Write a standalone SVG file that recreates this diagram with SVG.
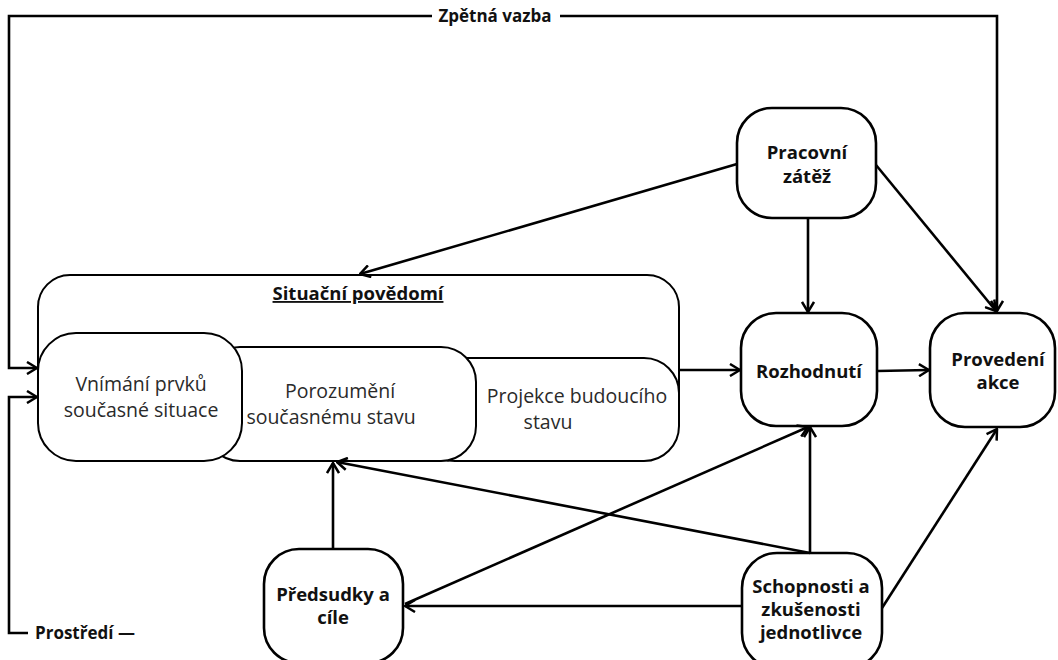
<svg xmlns="http://www.w3.org/2000/svg" width="1058" height="660" viewBox="0 0 1058 660">
<defs>
<style>
.box{fill:#fff;stroke:#000;stroke-width:2.6}
.inner{fill:#fff;stroke:#000;stroke-width:2}
.b{font-family:"Open Sans","Noto Sans","Liberation Sans",sans-serif;font-weight:700;font-size:18.5px;fill:#111;text-anchor:middle}
.n{font-family:"Open Sans","Noto Sans","Liberation Sans",sans-serif;font-weight:400;font-size:19.5px;fill:#2a2a2a;text-anchor:middle}
.lbl{font-family:"Open Sans","Noto Sans","Liberation Sans",sans-serif;font-weight:700;font-size:17px;fill:#111}
.c{fill:none;stroke:#000;stroke-width:2.6;marker-end:url(#ah)}
</style>
<marker id="ah" viewBox="0 0 12 14" refX="11" refY="7" markerWidth="12" markerHeight="14" markerUnits="userSpaceOnUse" orient="auto">
<path d="M1,1 L11,7 L1,13" fill="none" stroke="#000" stroke-width="2.5"/>
</marker>
</defs>
<rect width="1058" height="660" fill="#fff"/>

<g id="situacni-povedomi">
<rect class="inner" x="38" y="275" width="641" height="150" rx="32"/>
<text class="b" x="358" y="300" font-size="18" text-decoration="underline">Situační povědomí</text>
</g>
<g id="projekce">
<rect class="inner" x="420" y="358" width="259" height="103" rx="35"/>
<text class="n" x="577" y="403">Projekce budoucího</text>
<text class="n" x="548" y="429">stavu</text>
</g>
<g id="porozumeni">
<rect class="inner" x="205" y="347" width="271" height="114" rx="35"/>
<text class="n" x="340" y="398">Porozumění</text>
<text class="n" x="331" y="424">současnému stavu</text>
</g>
<g id="vnimani">
<rect class="inner" x="38" y="333" width="204" height="128" rx="38"/>
<text class="n" x="141" y="391">Vnímání prvků</text>
<text class="n" x="141" y="417">současné situace</text>
</g>

<g id="pracovni-zatez">
<rect class="box" x="737" y="108" width="139" height="110" rx="35"/>
<text class="b" x="807" y="159">Pracovní</text>
<text class="b" x="807" y="183">zátěž</text>
</g>
<g id="rozhodnuti">
<rect class="box" x="741" y="313" width="136" height="113" rx="35"/>
<text class="b" x="809" y="378">Rozhodnutí</text>
</g>
<g id="provedeni-akce">
<rect class="box" x="930" y="313" width="125" height="114" rx="35"/>
<text class="b" x="998" y="366">Provedení</text>
<text class="b" x="998" y="389">akce</text>
</g>
<g id="predsudky">
<rect class="box" x="264" y="549" width="139" height="114" rx="35"/>
<text class="b" x="333" y="601">Předsudky a</text>
<text class="b" x="333" y="624">cíle</text>
</g>
<g id="schopnosti">
<rect class="box" x="742" y="553" width="140" height="115" rx="35"/>
<text class="b" x="811" y="593">Schopnosti a</text>
<text class="b" x="811" y="616">zkušenosti</text>
<text class="b" x="811" y="639">jednotlivce</text>
</g>

<g id="connectors">
<path class="c" d="M432,16 H9 V368 H37"/>
<path class="c" d="M560,16 H997 V311"/>
<text class="lbl" x="495" y="22" text-anchor="middle">Zpětná vazba</text>
<path class="c" d="M28,633 H9 V397 H37"/>
<text class="lbl" x="35" y="639">Prostředí —</text>
<path class="c" d="M737,164 L360,274"/>
<path class="c" d="M808,218 V312"/>
<path class="c" d="M876,165 L996,311"/>
<path class="c" d="M679,370 H740"/>
<path class="c" d="M877,371 L929,370"/>
<path class="c" d="M810,553 V427"/>
<path class="c" d="M810,553 L337,462"/>
<path class="c" d="M333,549 V463"/>
<path class="c" d="M742,606 H405"/>
<path class="c" d="M405,604 L808,427"/>
<path class="c" d="M882,608 L997,429"/>
</g>
</svg>
